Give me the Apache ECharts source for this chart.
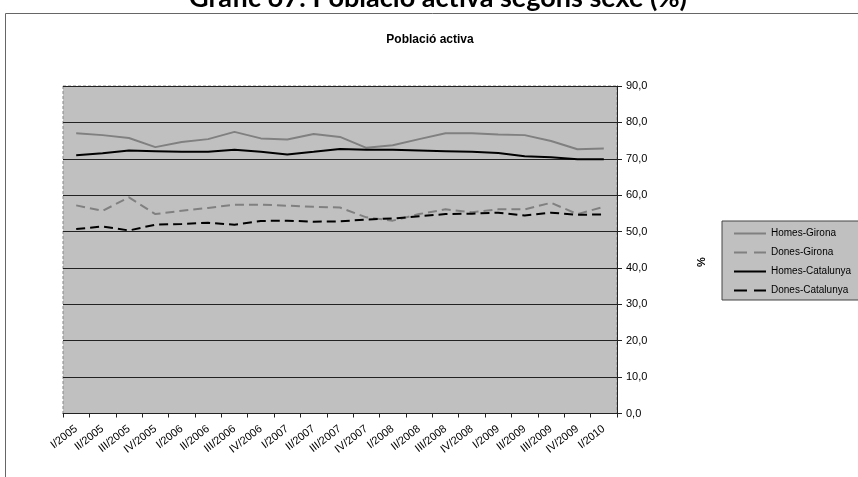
<!DOCTYPE html>
<html><head><meta charset="utf-8">
<script src="https://cdn.jsdelivr.net/npm/echarts@6/dist/echarts.min.js"></script>
<style>html,body{margin:0;padding:0;background:#fff}#c{width:858px;height:477px}</style>
</head><body><div id="c"></div>
<script>
const categories = ["I/2005","II/2005","III/2005","IV/2005","I/2006","II/2006","III/2006","IV/2006","I/2007","II/2007","III/2007","IV/2007","I/2008","II/2008","III/2008","IV/2008","I/2009","II/2009","III/2009","IV/2009","I/2010"];
const homesGirona = [77.0,76.5,75.7,73.2,74.6,75.4,77.4,75.6,75.3,76.8,76.0,73.0,73.7,75.4,77.0,77.0,76.7,76.5,74.9,72.6,72.8];
const donesGirona = [57.2,55.7,59.4,54.8,55.7,56.5,57.4,57.4,57.1,56.8,56.6,53.9,53.0,54.8,56.1,55.3,56.1,56.1,57.9,54.8,56.8];
const homesCatalunya = [71.0,71.5,72.3,72.1,71.9,71.9,72.5,71.9,71.2,71.9,72.7,72.5,72.5,72.3,72.1,71.9,71.6,70.7,70.4,69.9,69.9];
const donesCatalunya = [50.7,51.4,50.3,51.9,52.1,52.4,51.9,52.9,53.0,52.7,52.8,53.3,53.6,54.2,54.8,54.9,55.2,54.4,55.2,54.6,54.7];
const seriesNames = ["Homes-Girona","Dones-Girona","Homes-Catalunya","Dones-Catalunya"];

const chart = echarts.init(document.getElementById('c'));
const F = 'Arial, "Liberation Sans", sans-serif';
const ICON_SOLID = 'path://M0,0H32V2H0Z';
const ICON_DASH = 'path://M0,0H13V2H0Z M20,0H32V2H20Z';
function mk(name, data, color, dashed){
  return {name, type:'line', data, symbol:'none', smooth:false,
    lineStyle:{color, width:2, type: dashed ? [9,5] : 'solid'},
    itemStyle:{color}, emphasis:{disabled:true}};
}
chart.setOption({
  animation:false,
  backgroundColor:'#fff',
  graphic:[
    {type:'rect', shape:{x:5.5,y:13.5,width:900,height:500}, style:{fill:'none', stroke:'#666', lineWidth:1}, silent:true, z:-1},
    {type:'text', x:438, y:12, style:{text:'Gràfic 67: Població activa segons sexe (%)', font:'bold 27px Lato, "Open Sans", Arial, sans-serif', fill:'#000', textAlign:'center', textVerticalAlign:'bottom'}},
    {type:'text', x:430, y:34, style:{text:'Població activa', font:'bold 12px '+F, fill:'#000', textAlign:'center'}},
    {type:'text', x:696, y:262, rotation:Math.PI/2, style:{text:'%', font:'bold 11px '+F, fill:'#000', textAlign:'center'}}
  ],
  grid:{left:63, right:241, top:86, bottom:63.5, show:true, backgroundColor:'#c0c0c0', borderColor:'#888', borderWidth:1, borderType:[3,2]},
  legend:{orient:'vertical', left:722, top:221, symbolKeepAspect:false,
    data:[
      {name:seriesNames[0], icon:ICON_SOLID},
      {name:seriesNames[1], icon:ICON_DASH},
      {name:seriesNames[2], icon:ICON_SOLID},
      {name:seriesNames[3], icon:ICON_DASH}
    ],
    itemWidth:32, itemHeight:2, itemGap:6,
    backgroundColor:'#c0c0c0', borderColor:'#444', borderWidth:1, padding:[6,9,3,12], borderRadius:0,
    textStyle:{fontFamily:F, fontSize:10, color:'#000', lineHeight:13}, selectedMode:false},
  xAxis:{type:'category', data:categories, boundaryGap:true,
    axisLine:{lineStyle:{color:'#222', width:1}},
    axisTick:{show:true, length:4, lineStyle:{color:'#222'}, interval:0},
    axisLabel:{interval:0, rotate:38, fontFamily:F, fontSize:11, color:'#000', margin:14},
    splitLine:{show:false}},
  yAxis:{type:'value', position:'right', min:0, max:90, interval:10,
    axisLine:{show:true, lineStyle:{color:'#222'}},
    axisTick:{show:true, length:5, lineStyle:{color:'#222'}},
    axisLabel:{fontFamily:F, fontSize:11, color:'#000', margin:9, formatter:v=>v.toFixed(1).replace('.',',')},
    splitLine:{show:true, lineStyle:{color:'#222', width:1}}},
  series:[
    mk(seriesNames[0], homesGirona, '#808080', false),
    mk(seriesNames[1], donesGirona, '#808080', true),
    mk(seriesNames[2], homesCatalunya, '#000', false),
    mk(seriesNames[3], donesCatalunya, '#000', true)
  ]
});
</script></body></html>
